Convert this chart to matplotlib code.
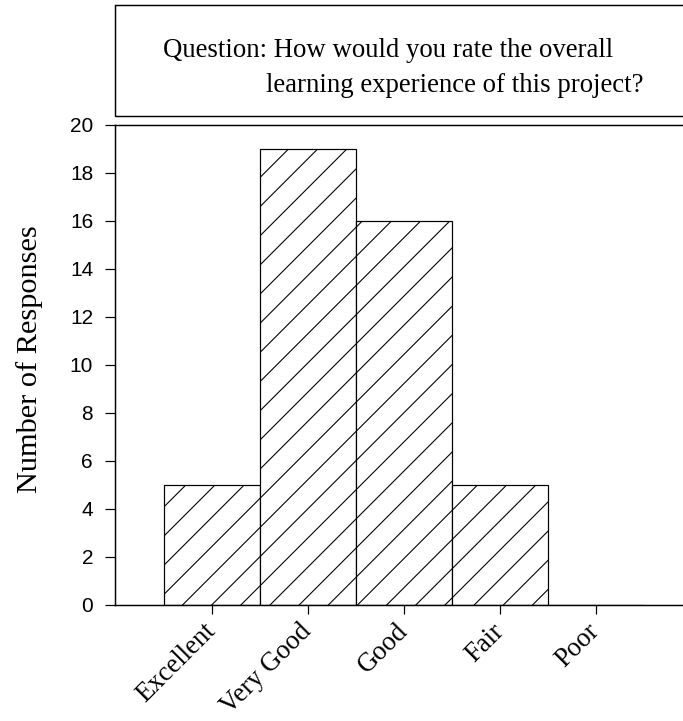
import matplotlib
matplotlib.use('Agg')
import matplotlib.pyplot as plt
import matplotlib.patches as mpatches

# Survey data
categories = ['Excellent', 'Very Good', 'Good', 'Fair', 'Poor']
responses = [5, 19, 16, 5, 0]
y_ticks = [0, 2, 4, 6, 8, 10, 12, 14, 16, 18, 20]

title_line1 = 'Question: How would you rate the overall'
title_line2 = 'learning experience of this project?'
y_label = 'Number of Responses'

DPI = 175
W, H = 683, 721
SERIF = ['Liberation Serif', 'DejaVu Serif']
SANS = ['Liberation Sans', 'DejaVu Sans']

plt.rcParams['hatch.linewidth'] = 0.45
plt.rcParams['hatch.color'] = 'black'

fig = plt.figure(figsize=(W / DPI, H / DPI), dpi=DPI)
ax = fig.add_axes([115 / W, 1 - 605 / H, 1 - 115 / W, (605 - 125) / H])

x = list(range(len(categories)))
ax.bar(x, responses, width=1.0, color='white', edgecolor='black',
       hatch='//', linewidth=0.5)

ax.set_xlim(-1.01, 4.91)
ax.set_ylim(0, 20)
ax.set_yticks(y_ticks)
ax.set_yticklabels([str(t) for t in y_ticks], family=SANS, fontsize=8.6)
ax.set_xticks(x)
ax.set_xticklabels(categories, family=SERIF, fontsize=11,
                   rotation=45, ha='right', va='center',
                   rotation_mode='anchor')

ax.tick_params(axis='y', direction='out', length=4.1, width=0.5, pad=4.9)
ax.tick_params(axis='x', direction='out', length=3.7, width=0.5, pad=5.5)

for side in ['left', 'bottom', 'top']:
    ax.spines[side].set_linewidth(0.6)
ax.spines['right'].set_visible(False)

# y label
fig.text(30 / W, 1 - 359 / H, y_label, rotation=90, ha='center', va='center',
         family=SERIF, fontsize=12.5)

# title box across the top
box = mpatches.Rectangle((115 / W, 1 - 116 / H), 1.0, (116 - 5) / H,
                         transform=fig.transFigure, fill=False,
                         edgecolor='black', linewidth=0.6, clip_on=False)
fig.add_artist(box)
fig.text(163 / W, 1 - 57 / H, title_line1, ha='left', va='baseline',
         family=SERIF, fontsize=11)
fig.text(266 / W, 1 - 92 / H, title_line2, ha='left', va='baseline',
         family=SERIF, fontsize=11)

fig.savefig('out.png', dpi=DPI)
